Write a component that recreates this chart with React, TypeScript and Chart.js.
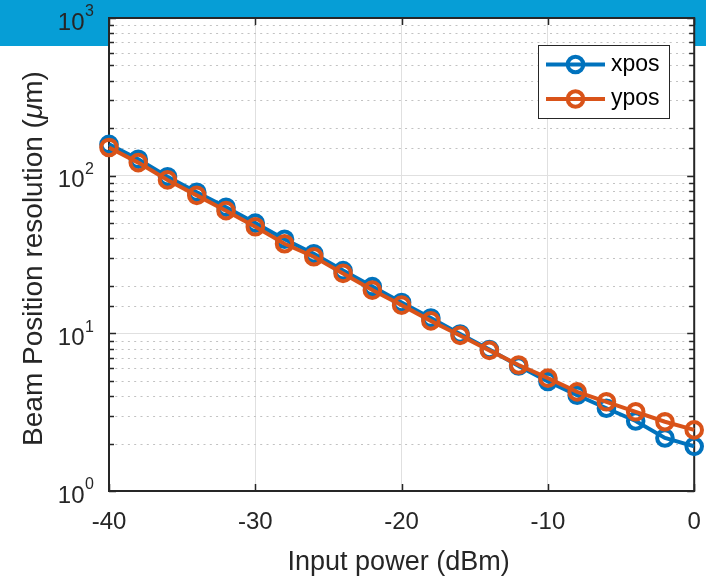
import React, { useEffect, useRef } from "react";
import { Chart, registerables } from "chart.js";

Chart.register(...registerables);

// ---- data ----
const inputPower = [-40, -38, -36, -34, -32, -30, -28, -26, -24, -22, -20, -18, -16, -14, -12, -10, -8, -6, -4, -2, 0];
const xposRes = [158, 127, 98.5, 78.5, 63, 50, 39.5, 32, 25, 19.8, 15.7, 12.5, 9.9, 7.9, 6.2, 4.95, 4.05, 3.35, 2.78, 2.17, 1.92];
const yposRes = [151, 121, 94, 75, 60, 47.4, 37, 30.6, 24, 18.8, 15.1, 12, 9.7, 7.8, 6.3, 5.2, 4.25, 3.68, 3.18, 2.75, 2.44];
const seriesNames = ["xpos", "ypos"];
const xTickValues = [-40, -30, -20, -10, 0];
const xTitle = "Input power (dBm)";
const yTitleParts = ["Beam Position resolution (", "\u03bc", "m)"];

const FONT = '"Liberation Sans", Arial, Helvetica, sans-serif';
const INK = "#262626";
const BLUE = "#0072BD";
const ORANGE = "#D95319";

const isMajor = (v: number) => {
  if (!v || v <= 0) return false;
  const l = Math.log10(v);
  return Math.abs(l - Math.round(l)) < 1e-9;
};

const matlabPlugin = {
  id: "matlabDeco",
  beforeDraw(chart: any) {
    const { ctx, chartArea: a } = chart;
    ctx.save();
    ctx.fillStyle = "#ffffff";
    ctx.fillRect(a.left, a.top, a.right - a.left, a.bottom - a.top);
    ctx.restore();
  },
  beforeDatasetsDraw(chart: any) {
    const { ctx, chartArea: a, scales } = chart;
    const xs = scales.x;
    const ys = scales.y;
    ctx.save();

    // minor dotted grid (log y)
    ctx.strokeStyle = "#c2c2c2";
    ctx.lineWidth = 1;
    ctx.setLineDash([2, 4.3]);
    ctx.beginPath();
    ys.ticks.forEach((t: any) => {
      if (isMajor(t.value)) return;
      const py = Math.round(ys.getPixelForValue(t.value)) + 0.5;
      ctx.moveTo(a.left, py);
      ctx.lineTo(a.right, py);
    });
    ctx.stroke();
    ctx.setLineDash([]);

    // tick marks (inward, all four sides)
    ctx.strokeStyle = INK;
    ctx.lineWidth = 1.5;
    ctx.beginPath();
    xs.ticks.forEach((t: any) => {
      const px = Math.round(xs.getPixelForValue(t.value)) + 0.5;
      ctx.moveTo(px, a.bottom);
      ctx.lineTo(px, a.bottom - 7);
      ctx.moveTo(px, a.top);
      ctx.lineTo(px, a.top + 7);
    });
    ys.ticks.forEach((t: any) => {
      const py = Math.round(ys.getPixelForValue(t.value)) + 0.5;
      const len = isMajor(t.value) ? 7 : 5;
      ctx.moveTo(a.left, py);
      ctx.lineTo(a.left + len, py);
      ctx.moveTo(a.right, py);
      ctx.lineTo(a.right - len, py);
    });
    ctx.stroke();
    ctx.lineWidth = 2;
    ctx.strokeRect(a.left, a.top, a.right - a.left, a.bottom - a.top);

    // x tick labels
    ctx.fillStyle = INK;
    ctx.font = `24px ${FONT}`;
    ctx.textAlign = "center";
    ctx.textBaseline = "middle";
    xs.ticks.forEach((t: any) => {
      const px = xs.getPixelForValue(t.value);
      ctx.fillText(String(t.value), px, a.bottom + 31);
    });

    // y tick labels 10^n
    ys.ticks.forEach((t: any) => {
      if (!isMajor(t.value)) return;
      const py = ys.getPixelForValue(t.value);
      const e = Math.round(Math.log10(t.value));
      ctx.font = `24px ${FONT}`;
      ctx.textAlign = "right";
      ctx.fillText("10", a.left - 24.5, py + 5);
      ctx.font = `16px ${FONT}`;
      ctx.textAlign = "left";
      ctx.fillText(String(e), a.left - 24, py - 6);
    });

    // x title
    ctx.font = `27px ${FONT}`;
    ctx.textAlign = "center";
    ctx.textBaseline = "alphabetic";
    ctx.fillText(xTitle, (a.left + a.right) / 2 - 3, 570);

    // y title (rotated, with italic mu)
    ctx.save();
    ctx.translate(42, (a.top + a.bottom) / 2 + 4);
    ctx.rotate(-Math.PI / 2);
    const fonts = [`28px ${FONT}`, `italic 28px ${FONT}`, `28px ${FONT}`];
    let total = 0;
    const widths = yTitleParts.map((p, i) => {
      ctx.font = fonts[i];
      const w = ctx.measureText(p).width;
      total += w;
      return w;
    });
    let cx = -total / 2;
    ctx.textAlign = "left";
    yTitleParts.forEach((p, i) => {
      ctx.font = fonts[i];
      ctx.fillText(p, cx, 0);
      cx += widths[i];
    });
    ctx.restore();
    ctx.restore();
  },
  afterDraw(chart: any) {
    const { ctx } = chart;
    // legend box
    const bx = 538, by = 45, bw = 131, bh = 73;
    ctx.save();
    ctx.fillStyle = "#ffffff";
    ctx.fillRect(bx, by, bw, bh);
    ctx.strokeStyle = INK;
    ctx.lineWidth = 1;
    ctx.strokeRect(bx + 0.5, by + 0.5, bw, bh);
    const rows = [64.5, 99];
    const colors = [BLUE, ORANGE];
    chart.data.datasets.forEach((ds: any, i: number) => {
      const yy = rows[i];
      ctx.strokeStyle = colors[i];
      ctx.lineWidth = 4;
      ctx.beginPath();
      ctx.moveTo(546, yy);
      ctx.lineTo(605, yy);
      ctx.stroke();
      ctx.lineWidth = 4;
      ctx.beginPath();
      ctx.arc(575.5, yy, 7.8, 0, Math.PI * 2);
      ctx.stroke();
      ctx.fillStyle = "#000000";
      ctx.font = `23px ${FONT}`;
      ctx.textAlign = "left";
      ctx.textBaseline = "middle";
      ctx.fillText(ds.label, 611, yy);
    });
    ctx.restore();
  },
};

export default function App() {
  const canvasRef = useRef<HTMLCanvasElement | null>(null);

  useEffect(() => {
    const canvas = canvasRef.current;
    if (!canvas) return;
    const mk = (vals: number[]) => inputPower.map((x, i) => ({ x, y: vals[i] }));
    const chart = new Chart(canvas, {
      type: "line",
      data: {
        datasets: [
          {
            label: seriesNames[0],
            data: mk(xposRes),
            borderColor: BLUE,
            backgroundColor: "transparent",
            borderWidth: 4,
            pointRadius: 7.8,
            pointBorderWidth: 4,
            pointBorderColor: BLUE,
            pointBackgroundColor: "rgba(0,0,0,0)",
            pointHoverRadius: 7.8,
            tension: 0,
            clip: false as any,
            order: 1,
          },
          {
            label: seriesNames[1],
            data: mk(yposRes),
            borderColor: ORANGE,
            backgroundColor: "transparent",
            borderWidth: 4,
            pointRadius: 7.8,
            pointBorderWidth: 4,
            pointBorderColor: ORANGE,
            pointBackgroundColor: "rgba(0,0,0,0)",
            pointHoverRadius: 7.8,
            tension: 0,
            clip: false as any,
            order: 0,
          },
        ],
      },
      options: {
        animation: false,
        responsive: false,
        maintainAspectRatio: false,
        events: [],
        layout: { padding: { left: 109, right: 10, top: 18, bottom: 88 } },
        plugins: {
          legend: { display: false },
          tooltip: { enabled: false },
          title: { display: false },
        },
        scales: {
          x: {
            type: "linear",
            min: -40,
            max: 0,
            afterBuildTicks: (s: any) => {
              s.ticks = xTickValues.map((v) => ({ value: v }));
            },
            afterFit: (s: any) => {
              s.height = 0;
            },
            ticks: { display: false },
            border: { display: false },
            grid: { drawTicks: false, color: "#e0e0e0", lineWidth: 1 },
          },
          y: {
            type: "logarithmic",
            min: 1,
            max: 1000,
            afterFit: (s: any) => {
              s.width = 0;
            },
            ticks: { display: false, autoSkip: false },
            border: { display: false },
            grid: {
              drawTicks: false,
              lineWidth: 1,
              color: (c: any) => (isMajor(c.tick?.value) ? "#e0e0e0" : "rgba(0,0,0,0)"),
            } as any,
          },
        },
      },
      plugins: [matlabPlugin],
    });
    return () => chart.destroy();
  }, []);

  return (
    <div
      style={{
        position: "fixed",
        left: 0,
        top: 0,
        width: 706,
        height: 579,
        background: "#ffffff",
        overflow: "hidden",
      }}
    >
      <div
        style={{
          position: "absolute",
          left: 0,
          top: 0,
          width: 706,
          height: 46,
          background: "#069ED6",
        }}
      />
      <canvas
        ref={canvasRef}
        width={706}
        height={579}
        style={{ position: "absolute", left: 0, top: 0, width: 706, height: 579 }}
      />
    </div>
  );
}
